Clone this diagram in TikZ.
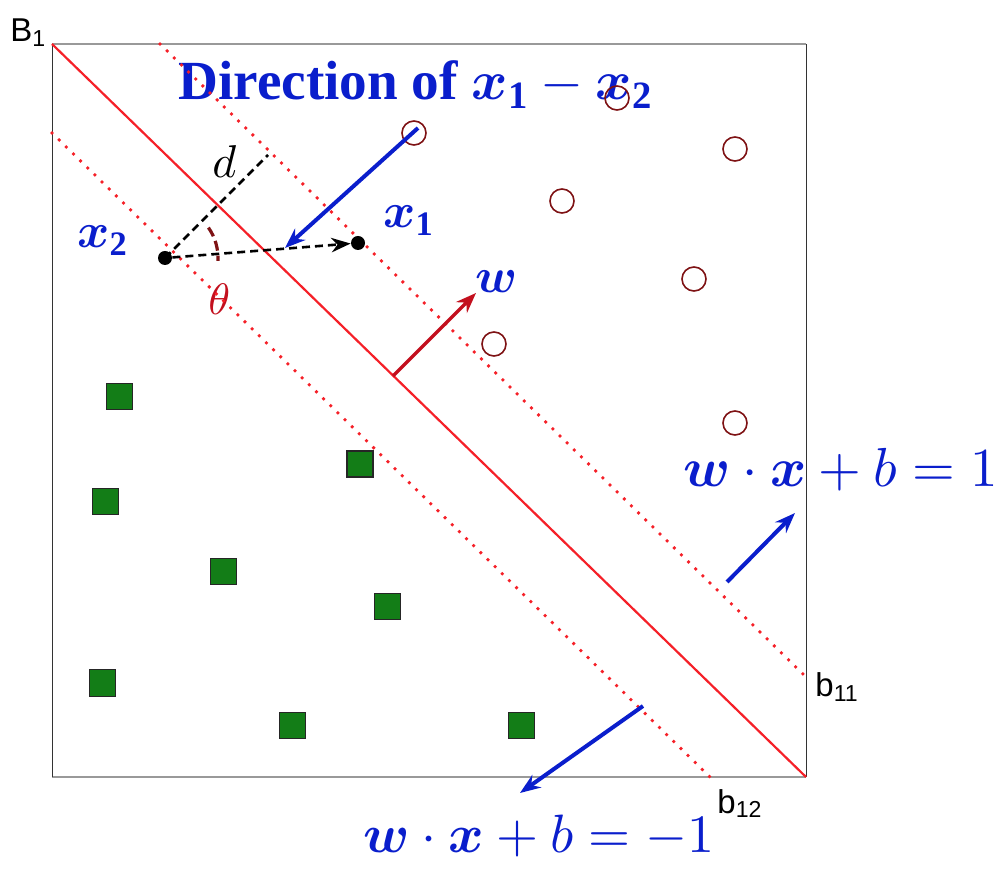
\documentclass[tikz,border=0pt]{standalone}
\usepackage{amsmath}
\usepackage{fontspec}
\setmainfont{Liberation Serif}
\newfontfamily\sansf{Liberation Sans}
\DeclareFontShape{OML}{cmm}{m}{it}{<->cmmi10}{}
\DeclareFontShape{OML}{cmm}{b}{it}{<->cmmib10}{}
\DeclareFontShape{OMS}{cmsy}{m}{n}{<->cmsy10}{}
\DeclareFontShape{OMS}{cmsy}{b}{n}{<->cmbsy10}{}
\DeclareFontShape{OT1}{cmr}{m}{n}{<->cmr10}{}
\DeclareFontShape{OT1}{cmr}{bx}{n}{<->cmbx10}{}
\usepackage{tikz}
\usetikzlibrary{arrows.meta}
\definecolor{Blue}{HTML}{0A1ECC}
\definecolor{Red}{HTML}{F52028}
\definecolor{DarkRed}{HTML}{7E1214}
\definecolor{WRed}{HTML}{C3101E}
\definecolor{Green}{HTML}{137D17}

\begin{document}
\begin{tikzpicture}[x=0.5pt,y=-0.5pt,
    pnt/.style={circle,fill=black,inner sep=0pt,minimum size=7pt},
    plusc/.style={circle,draw=DarkRed,line width=0.8pt,inner sep=0pt,minimum size=12pt},
    minuss/.style={rectangle,draw=black!85,fill=Green,line width=0.5pt,inner sep=0pt,minimum size=13pt},
    lbl/.style={text=Blue,inner sep=0pt,anchor=base west,font=\fontsize{24.5}{28}\selectfont},
    tag/.style={inner sep=0pt,anchor=base west,font=\sansf\fontsize{16.5}{20}\selectfont},
    margin/.style={draw=Red,line width=1.9pt,dash pattern=on 0pt off 5pt,line cap=round},
    a/.style={-{Stealth[length=3.6mm,inset=1.2mm]},line width=2pt,draw=Blue}]
    \useasboundingbox (0,0) rectangle (1006,870);
    % frame
    \coordinate (tl) at (52,44); \coordinate (tr) at (806,44);
    \coordinate (bl) at (52,777); \coordinate (br) at (806,777);
    \draw[black!40,line width=0.8pt] (tl)--(tr) (bl)--(br);
    \draw[black!80,line width=0.5pt] (tl)--(bl) (tr)--(br);
    % texts
    \node[lbl,font=\bfseries\fontsize{27.6}{32}\selectfont] (dir) at (178,100)
      {Direction of $\boldsymbol{x}_{\mathbf{1}}-\boldsymbol{x}_{\mathbf{2}}$};
    \node[lbl] (lx2) at (77,248) {$\boldsymbol{x}_{\mathbf{2}}$};
    \node[lbl] (lx1) at (383,228) {$\boldsymbol{x}_{\mathbf{1}}$};
    \node[lbl] (lw) at (475,293) {$\boldsymbol{w}$};
    \node[lbl,text=black,font=\fontsize{23}{28}\selectfont] (ld) at (212,178) {$d$};
    \node[lbl,text=WRed,font=\fontsize{22}{26}\selectfont] (lth) at (208,315) {$\theta$};
    \node[lbl,font=\fontsize{27.5}{32}\selectfont] (eq1) at (683,487) {$\boldsymbol{w}\cdot\boldsymbol{x}+b=1$};
    \node[lbl,font=\fontsize{27}{32}\selectfont] (eq2) at (363,852) {$\boldsymbol{w}\cdot\boldsymbol{x}+b=-1$};
    \node[tag] (B1) at (10,42) {B\textsubscript{1}};
    \node[tag] (b11) at (815,697) {b\textsubscript{11}};
    \node[tag] (b12) at (717,813) {b\textsubscript{12}};
    % hyperplanes
    \coordinate (m1a) at (160,44); \coordinate (m1b) at (806,677);
    \coordinate (m2a) at (52,133); \coordinate (m2b) at (710,777);
    \draw[Red,line width=1.1pt] (tl)--(br);
    \draw[margin] (m1a)--(m1b); \draw[margin] (m2a)--(m2b);
    % class +1
    \node[plusc] (c1) at (414,133) {}; \node[plusc] (c2) at (617,98) {};
    \node[plusc] (c3) at (735,149) {}; \node[plusc] (c4) at (562,201) {};
    \node[plusc] (c5) at (694,279) {}; \node[plusc] (c6) at (494,344) {};
    \node[plusc] (c7) at (735,423) {};
    % class -1
    \node[minuss] (s1) at (119,397) {}; \node[minuss,line width=0.9pt] (s2) at (360,464) {};
    \node[minuss] (s3) at (105,502) {}; \node[minuss] (s4) at (223,572) {};
    \node[minuss] (s5) at (387,607) {}; \node[minuss] (s6) at (102,683) {};
    \node[minuss] (s7) at (292,725) {}; \node[minuss] (s8) at (521,725) {};
    % points and distance
    \node[pnt] (x2) at (165,258) {};
    \node[pnt] (x1) at (358,243) {};
    \coordinate (dtop) at (268,155);
    \draw[line width=1.3pt,dash pattern=on 4pt off 2.5pt] (x2.center)--(dtop);
    \draw[-{Stealth[length=3.4mm,inset=1.1mm]},line width=1.3pt,dash pattern=on 4pt off 2.5pt] (x2)--(x1);
    \draw[DarkRed,line width=1.6pt,dash pattern=on 5pt off 2.5pt] (x2.center) ++(-35:53) arc[start angle=-35,end angle=3,radius=53];
    % arrows
    \coordinate (ds) at (418,128); \coordinate (de) at (285,248);
    \draw[a] (ds)--(de);
    \coordinate (ws) at (393,376); \coordinate (we) at (476,293);
    \draw[a,draw=WRed,line width=1.6pt] (ws)--(we);
    \coordinate (p1s) at (727,582); \coordinate (p1e) at (795,513);
    \draw[a] (p1s)--(p1e);
    \coordinate (p2s) at (643,706); \coordinate (p2e) at (520,793);
    \draw[a] (p2s)--(p2e);
\end{tikzpicture}
\end{document}
